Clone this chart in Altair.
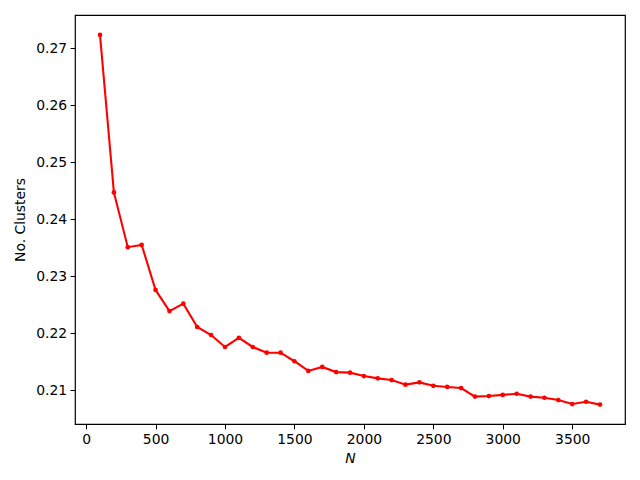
import altair as alt
import pandas as pd

n_values = list(range(100, 3800, 100))
clusters = [0.2723, 0.2447, 0.2351, 0.2355, 0.2276, 0.2239, 0.2252, 0.2211, 0.2197, 0.2176,
            0.2192, 0.2176, 0.2166, 0.2166, 0.2151, 0.2134, 0.2141, 0.2132, 0.2131, 0.2125,
            0.2121, 0.2118, 0.2110, 0.2114, 0.2108, 0.2106, 0.2104, 0.2089, 0.2090, 0.2092,
            0.2094, 0.2089, 0.2087, 0.2083, 0.2076, 0.2080, 0.2075]
x_ticks = [0, 500, 1000, 1500, 2000, 2500, 3000, 3500]
y_ticks = [0.21, 0.22, 0.23, 0.24, 0.25, 0.26, 0.27]

df = pd.DataFrame({"N": n_values, "v": clusters})

axis_common = dict(
    domain=False, grid=False, tickColor="black", tickSize=4.9, tickWidth=1,
    labelColor="black", labelFont="DejaVu Sans", labelFontSize=13.9, labelPadding=3.5,
    titleColor="black", titleFontSize=13.9, titleFontWeight="normal",
)

x = alt.X("N:Q", scale=alt.Scale(domain=[-80, 3880], nice=False, zero=False),
          axis=alt.Axis(values=x_ticks, format="d", title="N", titleFont="DejaVu Sans",
                        titleFontStyle="italic", titlePadding=5, labelFlush=False, **axis_common))
y = alt.Y("v:Q", scale=alt.Scale(domain=[0.2041, 0.2758], nice=False, zero=False),
          axis=alt.Axis(values=y_ticks, format=".2f", title="No. Clusters", titleFont="DejaVu Sans",
                        titlePadding=8, labelFlush=False, **axis_common))

line = alt.Chart(df).mark_line(color="#ff0000", strokeWidth=2.1).encode(x=x, y=y)
pts = alt.Chart(df).mark_point(color="#ff0000", filled=True, opacity=1, size=22, shape="circle").encode(x=x, y=y)

chart = (line + pts).properties(
    width=550, height=409,
    autosize=alt.AutoSizeParams(type="none"),
    padding={"left": 67, "top": 7, "right": 7, "bottom": 48},
).configure(background="white").configure_view(stroke="black", strokeWidth=1.2)

chart.save("out.html", embed_options={"renderer": "svg", "actions": False})
